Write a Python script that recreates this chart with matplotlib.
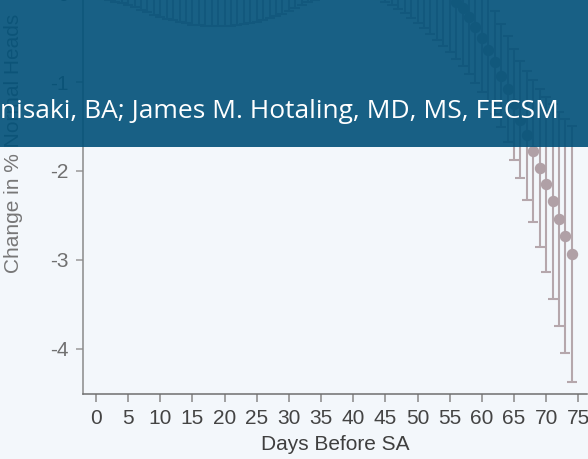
import matplotlib
matplotlib.use("Agg")
import matplotlib.pyplot as plt
from matplotlib.patches import Rectangle
import numpy as np

# ---- data (early points lie above the visible crop) ----
days = list(range(0, 75))
estimate = [0.91, 0.86, 0.815, 0.767, 0.726, 0.684, 0.641, 0.593, 0.555, 0.517,
            0.484, 0.454, 0.425, 0.406, 0.381, 0.368, 0.35, 0.342, 0.339, 0.339,
            0.341, 0.345, 0.354, 0.375, 0.387, 0.401, 0.427, 0.45, 0.482, 0.51,
            0.55, 0.588, 0.627, 0.661, 0.70, 0.725, 0.755, 0.77, 0.78, 0.785,
            0.785, 0.78, 0.765, 0.745, 0.705, 0.668, 0.627, 0.572, 0.517, 0.455,
            0.384, 0.315, 0.241, 0.167, 0.09, 0.008, -0.095, -0.17, -0.27, -0.385,
            -0.508, -0.635, -0.778, -0.928, -1.082, -1.251, -1.423, -1.597, -1.777, -1.964,
            -2.152, -2.343, -2.538, -2.734, -2.932]
ci_half = [0.95, 0.92, 0.89, 0.86, 0.84, 0.82, 0.80, 0.78, 0.77, 0.76,
           0.75, 0.74, 0.73, 0.73, 0.72, 0.72, 0.71, 0.71, 0.71, 0.71,
           0.71, 0.71, 0.71, 0.72, 0.72, 0.72, 0.73, 0.73, 0.74, 0.74,
           0.75, 0.75, 0.76, 0.76, 0.77, 0.77, 0.78, 0.78, 0.78, 0.78,
           0.78, 0.78, 0.78, 0.78, 0.77, 0.77, 0.76, 0.75, 0.74, 0.73,
           0.72, 0.71, 0.70, 0.69, 0.68, 0.67, 0.65, 0.65, 0.635, 0.62,
           0.60, 0.585, 0.578, 0.578, 0.597, 0.62, 0.661, 0.727, 0.80, 0.886,
           0.988, 1.093, 1.202, 1.32, 1.44]
xticks = list(range(0, 80, 5))
yticks = [-4, -3, -2, -1, 0, 1]
banner_text = "nisaki, BA; James M. Hotaling, MD, MS, FECSM"

plt.rcParams['axes.unicode_minus'] = False
plt.rcParams['font.family'] = ['Liberation Sans', 'DejaVu Sans']

W, H = 588, 459
fig = plt.figure(figsize=(W / 100, H / 100), dpi=100)
bg = '#f3f7fb'
fig.patch.set_facecolor(bg)

# axes extends above the (cropped) figure top
left_px, right_px, bottom_px, top_px = 82.7, 587.3, 394.0, -108.0
ax = fig.add_axes([left_px / W, (H - bottom_px) / H,
                   (right_px - left_px) / W, (bottom_px - top_px) / H])
ax.set_facecolor(bg)

mk = '#b0a0a6'
ax.errorbar(days, estimate, yerr=ci_half, fmt='o', color=mk, ecolor='#b5a7ac',
            markersize=7.2, elinewidth=1.5, capsize=3.8, capthick=1.5)

ax.set_xlim(-2.07, 76.4)
ax.set_ylim(-4.51, 1.14)
ax.set_xticks(xticks)
ax.set_yticks(yticks)
ax.set_yticklabels([str(t) for t in yticks])

for s in ['top', 'right']:
    ax.spines[s].set_visible(False)
ax.spines['left'].set_color('#8a8a8a')
ax.spines['bottom'].set_color('#6f6f6f')
ax.spines['left'].set_linewidth(1.1)
ax.spines['bottom'].set_linewidth(1.1)

ax.tick_params(axis='x', length=6, width=1.1, color='#888888', labelsize=15,
               labelcolor='#444444', pad=5)
ax.tick_params(axis='y', length=5, width=1.1, color='#999999', labelsize=15,
               labelcolor='#707070', pad=5)

ax.set_xlabel('Days Before SA', fontsize=15, color='#3f3f3f', labelpad=5)
ax.set_ylabel('Change in % Normal Heads', fontsize=15, color='#777777')
ax.yaxis.set_label_coords((23 - left_px) / (right_px - left_px), 0.5)

# banner overlay
banner_bottom = 146.7
rect = Rectangle((0, (H - banner_bottom) / H), 1, banner_bottom / H,
                 transform=fig.transFigure, facecolor='#005078', alpha=0.9,
                 edgecolor='none', zorder=10)
fig.add_artist(rect)
fig.text(0.0, (H - 117.5) / H, banner_text, color='white', fontsize=19,
         family=['Open Sans', 'DejaVu Sans'], ha='left', va='baseline', zorder=11)

fig.savefig('out.png', dpi=100, facecolor=bg)
